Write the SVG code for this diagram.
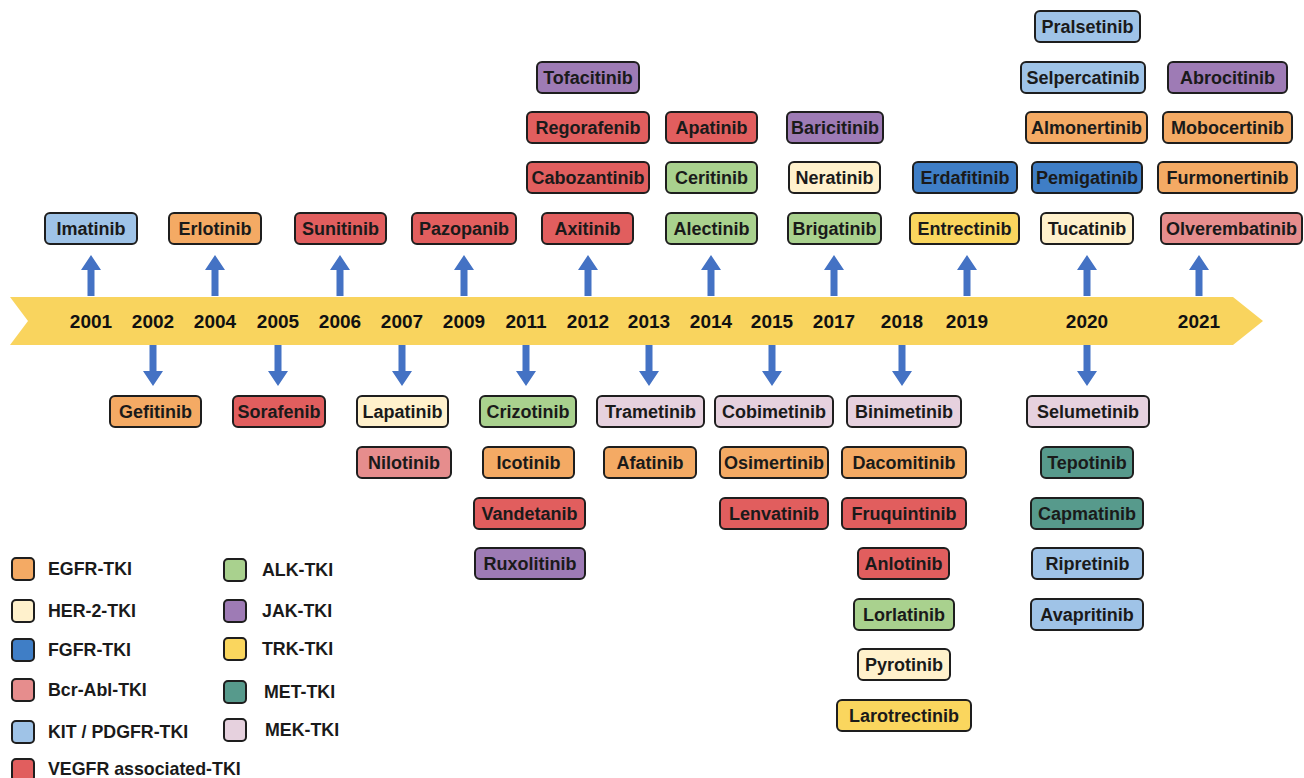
<svg xmlns="http://www.w3.org/2000/svg" xmlns:xlink="http://www.w3.org/1999/xlink" width="1304" height="778" viewBox="0 0 1304 778">
<style>
.b{stroke:#1e1e1e;stroke-width:2}
.t{font-family:"Liberation Sans",Arial,sans-serif;font-weight:bold;font-size:18px;fill:#1a1a1a;text-anchor:middle}
.y{font-family:"Liberation Sans",Arial,sans-serif;font-weight:bold;font-size:19px;fill:#111;text-anchor:middle}
.l{font-family:"Liberation Sans",Arial,sans-serif;font-weight:bold;font-size:17.8px;fill:#1a1a1a}
.egfr{fill:#F4AA64}.her{fill:#FFF1CC}.fgfr{fill:#3F7EC6}.bcr{fill:#E68D8D}.kit{fill:#9FC3E7}.vegf{fill:#E15E5E}
.alk{fill:#A9D18E}.jak{fill:#9E7BB5}.trk{fill:#FAD65E}.met{fill:#579A8C}.mek{fill:#E6D1DE}
.ar{fill:#4472C4}
</style>
<defs>
<path id="up" d="M-3.5,296 V270 H-10 L0,255 L10,270 H3.5 V296 Z"/>
<path id="dn" d="M-3.5,345 V371 H-10 L0,386 L10,371 H3.5 V345 Z"/>
</defs>
<g id="timeline">
<polygon points="10,297 1233,297 1263,321 1233,345 10,345 28,321" fill="#F9D45E"/>
<text class="y" x="91" y="328">2001</text>
<text class="y" x="153" y="328">2002</text>
<text class="y" x="215" y="328">2004</text>
<text class="y" x="278" y="328">2005</text>
<text class="y" x="340" y="328">2006</text>
<text class="y" x="402" y="328">2007</text>
<text class="y" x="464" y="328">2009</text>
<text class="y" x="526" y="328">2011</text>
<text class="y" x="588" y="328">2012</text>
<text class="y" x="649" y="328">2013</text>
<text class="y" x="711" y="328">2014</text>
<text class="y" x="772" y="328">2015</text>
<text class="y" x="834" y="328">2017</text>
<text class="y" x="902" y="328">2018</text>
<text class="y" x="967" y="328">2019</text>
<text class="y" x="1087" y="328">2020</text>
<text class="y" x="1199" y="328">2021</text>
</g>
<g id="connectors" class="ar">
<use xlink:href="#up" x="91"/><use xlink:href="#up" x="215"/><use xlink:href="#up" x="340"/><use xlink:href="#up" x="464"/><use xlink:href="#up" x="588"/><use xlink:href="#up" x="711"/><use xlink:href="#up" x="834"/><use xlink:href="#up" x="967"/><use xlink:href="#up" x="1087"/><use xlink:href="#up" x="1199"/>
<use xlink:href="#dn" x="153"/><use xlink:href="#dn" x="278"/><use xlink:href="#dn" x="402"/><use xlink:href="#dn" x="526"/><use xlink:href="#dn" x="649"/><use xlink:href="#dn" x="772"/><use xlink:href="#dn" x="902"/><use xlink:href="#dn" x="1087"/>
</g>
<g id="imatinib"><rect class="b kit" x="45" y="213" width="92" height="31" rx="5"/><text class="t" x="91" y="235">Imatinib</text></g>
<g id="erlotinib"><rect class="b egfr" x="169" y="213" width="92" height="31" rx="5"/><text class="t" x="215" y="235">Erlotinib</text></g>
<g id="sunitinib"><rect class="b vegf" x="295" y="213" width="91" height="31" rx="5"/><text class="t" x="340.5" y="235">Sunitinib</text></g>
<g id="pazopanib"><rect class="b vegf" x="412" y="213" width="104" height="31" rx="5"/><text class="t" x="464" y="235">Pazopanib</text></g>
<g id="axitinib"><rect class="b vegf" x="542" y="213" width="91" height="31" rx="5"/><text class="t" x="587.5" y="235">Axitinib</text></g>
<g id="alectinib"><rect class="b alk" x="666" y="213" width="91" height="31" rx="5"/><text class="t" x="711.5" y="235">Alectinib</text></g>
<g id="brigatinib"><rect class="b alk" x="788" y="213" width="93" height="31" rx="5"/><text class="t" x="834.5" y="235">Brigatinib</text></g>
<g id="entrectinib"><rect class="b trk" x="910" y="213" width="109" height="31" rx="5"/><text class="t" x="964.5" y="235">Entrectinib</text></g>
<g id="tucatinib"><rect class="b her" x="1041" y="213" width="92" height="31" rx="5"/><text class="t" x="1087" y="235">Tucatinib</text></g>
<g id="olverembatinib"><rect class="b bcr" x="1161" y="213" width="141" height="31" rx="5"/><text class="t" x="1231.5" y="235">Olverembatinib</text></g>
<g id="cabozantinib"><rect class="b vegf" x="527" y="162" width="122" height="31" rx="5"/><text class="t" x="588" y="184">Cabozantinib</text></g>
<g id="ceritinib"><rect class="b alk" x="666" y="162" width="91" height="31" rx="5"/><text class="t" x="711.5" y="184">Ceritinib</text></g>
<g id="neratinib"><rect class="b her" x="789" y="162" width="91" height="31" rx="5"/><text class="t" x="834.5" y="184">Neratinib</text></g>
<g id="erdafitinib"><rect class="b fgfr" x="913" y="162" width="104" height="31" rx="5"/><text class="t" x="965" y="184">Erdafitinib</text></g>
<g id="pemigatinib"><rect class="b fgfr" x="1032" y="162" width="110" height="31" rx="5"/><text class="t" x="1087" y="184">Pemigatinib</text></g>
<g id="furmonertinib"><rect class="b egfr" x="1158" y="162" width="139" height="31" rx="5"/><text class="t" x="1227.5" y="184">Furmonertinib</text></g>
<g id="regorafenib"><rect class="b vegf" x="527" y="112" width="122" height="31" rx="5"/><text class="t" x="588" y="134">Regorafenib</text></g>
<g id="apatinib"><rect class="b vegf" x="666" y="112" width="91" height="31" rx="5"/><text class="t" x="711.5" y="134">Apatinib</text></g>
<g id="baricitinib"><rect class="b jak" x="787" y="112" width="96" height="31" rx="5"/><text class="t" x="835" y="134">Baricitinib</text></g>
<g id="almonertinib"><rect class="b egfr" x="1026" y="112" width="121" height="31" rx="5"/><text class="t" x="1086.5" y="134">Almonertinib</text></g>
<g id="mobocertinib"><rect class="b egfr" x="1163" y="112" width="129" height="31" rx="5"/><text class="t" x="1227.5" y="134">Mobocertinib</text></g>
<g id="tofacitinib"><rect class="b jak" x="537" y="62" width="102" height="31" rx="5"/><text class="t" x="588" y="84">Tofacitinib</text></g>
<g id="selpercatinib"><rect class="b kit" x="1021" y="62" width="124" height="31" rx="5"/><text class="t" x="1083" y="84">Selpercatinib</text></g>
<g id="abrocitinib"><rect class="b jak" x="1168" y="62" width="119" height="31" rx="5"/><text class="t" x="1227.5" y="84">Abrocitinib</text></g>
<g id="pralsetinib"><rect class="b kit" x="1035" y="11" width="105" height="31" rx="5"/><text class="t" x="1087.5" y="33">Pralsetinib</text></g>
<g id="gefitinib"><rect class="b egfr" x="110" y="396" width="91" height="31" rx="5"/><text class="t" x="155.5" y="418">Gefitinib</text></g>
<g id="sorafenib"><rect class="b vegf" x="233" y="396" width="92" height="31" rx="5"/><text class="t" x="279" y="418">Sorafenib</text></g>
<g id="lapatinib"><rect class="b her" x="357" y="396" width="91" height="31" rx="5"/><text class="t" x="402.5" y="418">Lapatinib</text></g>
<g id="crizotinib"><rect class="b alk" x="480" y="396" width="96" height="31" rx="5"/><text class="t" x="528" y="418">Crizotinib</text></g>
<g id="trametinib"><rect class="b mek" x="597" y="396" width="107" height="31" rx="5"/><text class="t" x="650.5" y="418">Trametinib</text></g>
<g id="cobimetinib"><rect class="b mek" x="715" y="396" width="118" height="31" rx="5"/><text class="t" x="774" y="418">Cobimetinib</text></g>
<g id="binimetinib"><rect class="b mek" x="847" y="396" width="114" height="31" rx="5"/><text class="t" x="904" y="418">Binimetinib</text></g>
<g id="selumetinib"><rect class="b mek" x="1027" y="396" width="122" height="31" rx="5"/><text class="t" x="1088" y="418">Selumetinib</text></g>
<g id="nilotinib"><rect class="b bcr" x="357" y="447" width="94" height="31" rx="5"/><text class="t" x="404" y="469">Nilotinib</text></g>
<g id="icotinib"><rect class="b egfr" x="483" y="447" width="91" height="31" rx="5"/><text class="t" x="528.5" y="469">Icotinib</text></g>
<g id="afatinib"><rect class="b egfr" x="604" y="447" width="92" height="31" rx="5"/><text class="t" x="650" y="469">Afatinib</text></g>
<g id="osimertinib"><rect class="b egfr" x="720" y="447" width="108" height="31" rx="5"/><text class="t" x="774" y="469">Osimertinib</text></g>
<g id="dacomitinib"><rect class="b egfr" x="842" y="447" width="124" height="31" rx="5"/><text class="t" x="904" y="469">Dacomitinib</text></g>
<g id="tepotinib"><rect class="b met" x="1041" y="447" width="92" height="31" rx="5"/><text class="t" x="1087" y="469">Tepotinib</text></g>
<g id="vandetanib"><rect class="b vegf" x="474" y="498" width="111" height="31" rx="5"/><text class="t" x="529.5" y="520">Vandetanib</text></g>
<g id="lenvatinib"><rect class="b vegf" x="720" y="498" width="108" height="31" rx="5"/><text class="t" x="774" y="520">Lenvatinib</text></g>
<g id="fruquintinib"><rect class="b vegf" x="842" y="498" width="124" height="31" rx="5"/><text class="t" x="904" y="520">Fruquintinib</text></g>
<g id="capmatinib"><rect class="b met" x="1031" y="498" width="112" height="31" rx="5"/><text class="t" x="1087" y="520">Capmatinib</text></g>
<g id="ruxolitinib"><rect class="b jak" x="475" y="548" width="110" height="31" rx="5"/><text class="t" x="530" y="570">Ruxolitinib</text></g>
<g id="anlotinib"><rect class="b vegf" x="858" y="548" width="91" height="31" rx="5"/><text class="t" x="903.5" y="570">Anlotinib</text></g>
<g id="ripretinib"><rect class="b kit" x="1032" y="548" width="111" height="31" rx="5"/><text class="t" x="1087.5" y="570">Ripretinib</text></g>
<g id="lorlatinib"><rect class="b alk" x="854" y="599" width="100" height="31" rx="5"/><text class="t" x="904" y="621">Lorlatinib</text></g>
<g id="avapritinib"><rect class="b kit" x="1031" y="599" width="112" height="31" rx="5"/><text class="t" x="1087" y="621">Avapritinib</text></g>
<g id="pyrotinib"><rect class="b her" x="858" y="649" width="92" height="31" rx="5"/><text class="t" x="904" y="671">Pyrotinib</text></g>
<g id="larotrectinib"><rect class="b trk" x="837" y="700" width="134" height="31" rx="5"/><text class="t" x="904" y="722">Larotrectinib</text></g>
<g id="legend">
<rect class="b egfr" x="12" y="558" width="22" height="22" rx="4"/><text class="l" x="48" y="575">EGFR-TKI</text>
<rect class="b her" x="12" y="600" width="22" height="22" rx="4"/><text class="l" x="48" y="617">HER-2-TKI</text>
<rect class="b fgfr" x="12" y="639" width="22" height="22" rx="4"/><text class="l" x="48" y="656">FGFR-TKI</text>
<rect class="b bcr" x="12" y="679" width="22" height="22" rx="4"/><text class="l" x="48" y="696">Bcr-Abl-TKI</text>
<rect class="b kit" x="12" y="721" width="22" height="22" rx="4"/><text class="l" x="48" y="738">KIT / PDGFR-TKI</text>
<rect class="b vegf" x="12" y="759" width="22" height="22" rx="4"/><text class="l" x="48" y="775">VEGFR associated-TKI</text>
<rect class="b alk" x="224" y="559" width="22" height="22" rx="4"/><text class="l" x="262" y="576">ALK-TKI</text>
<rect class="b jak" x="224" y="600" width="22" height="22" rx="4"/><text class="l" x="262" y="617">JAK-TKI</text>
<rect class="b trk" x="224" y="638" width="22" height="22" rx="4"/><text class="l" x="262" y="655">TRK-TKI</text>
<rect class="b met" x="224" y="681" width="22" height="22" rx="4"/><text class="l" x="264" y="698">MET-TKI</text>
<rect class="b mek" x="224" y="719" width="22" height="22" rx="4"/><text class="l" x="265" y="736">MEK-TKI</text>
</g>
</svg>
